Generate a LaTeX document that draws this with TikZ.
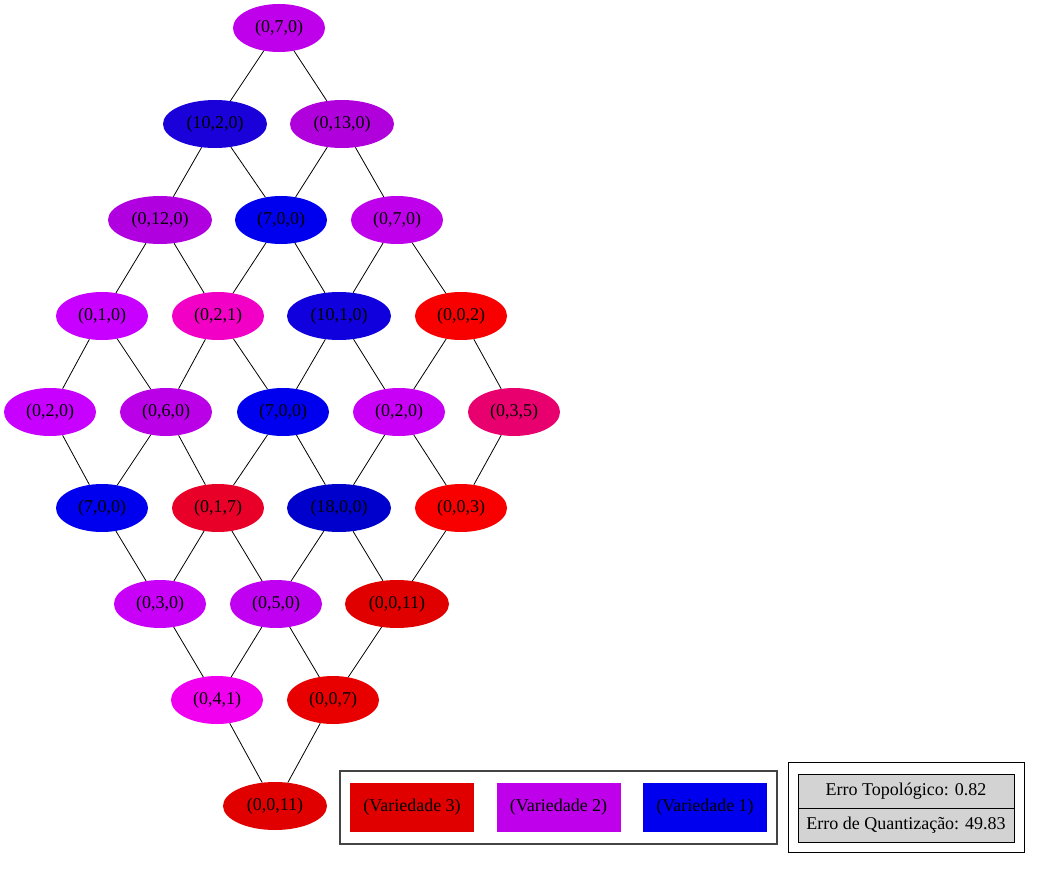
\documentclass[tikz,border=0pt]{standalone}
\usepackage{fontspec}
\setmainfont{Liberation Serif}
\usetikzlibrary{shapes.geometric}
\definecolor{cA}{HTML}{BF00EA}
\definecolor{cB}{HTML}{1A00D9}
\definecolor{cC}{HTML}{B000DC}
\definecolor{cD}{HTML}{B000E0}
\definecolor{cE}{HTML}{0000EE}
\definecolor{cF}{HTML}{BE00EB}
\definecolor{cG}{HTML}{C800FF}
\definecolor{cH}{HTML}{F200C6}
\definecolor{cI}{HTML}{1000DD}
\definecolor{cJ}{HTML}{F80000}
\definecolor{cK}{HTML}{BA00E6}
\definecolor{cL}{HTML}{C800F5}
\definecolor{cM}{HTML}{E8006E}
\definecolor{cN}{HTML}{E80028}
\definecolor{cO}{HTML}{0000CC}
\definecolor{cP}{HTML}{C800F8}
\definecolor{cQ}{HTML}{C000F0}
\definecolor{cR}{HTML}{E00000}
\definecolor{cS}{HTML}{F000EE}
\definecolor{cT}{HTML}{E80000}
\definecolor{legR}{HTML}{E00000}
\definecolor{legV}{HTML}{BF00EA}
\definecolor{legB}{HTML}{0000EE}
\definecolor{frame}{HTML}{444444}
\definecolor{cellgray}{HTML}{D3D3D3}
\tikzset{
  nd/.style={ellipse, inner sep=0pt, minimum width=92pt, minimum height=48pt, font=\fontsize{18}{20}\selectfont, text=black},
  wide/.style={minimum width=104pt},
  ed/.style={draw=black, line width=0.8pt},
  legbox/.style={rectangle, inner sep=0pt, minimum width=124pt, minimum height=49pt, font=\fontsize{18}{20}\selectfont},
  cell/.style={rectangle, draw=black, line width=0.8pt, fill=cellgray, inner sep=0pt, minimum width=216pt, minimum height=34pt, font=\fontsize{18}{20}\selectfont}
}
\begin{document}
\begin{tikzpicture}[x=1pt,y=-1pt]
\useasboundingbox (0,0) rectangle (1041,869);
% row 0
\node[nd, fill=cA] (n00) at (279,28) {(0,7,0)};
% row 1
\node[nd, wide, fill=cB] (n10) at (215,124) {(10,2,0)};
\node[nd, wide, fill=cC] (n11) at (342,124) {(0,13,0)};
% row 2
\node[nd, wide, fill=cD] (n20) at (160,220) {(0,12,0)};
\node[nd, fill=cE] (n21) at (281,220) {(7,0,0)};
\node[nd, fill=cF] (n22) at (397,220) {(0,7,0)};
% row 3
\node[nd, fill=cG] (n30) at (102,316) {(0,1,0)};
\node[nd, fill=cH] (n31) at (218,316) {(0,2,1)};
\node[nd, wide, fill=cI] (n32) at (339,316) {(10,1,0)};
\node[nd, fill=cJ] (n33) at (461,316) {(0,0,2)};
% row 4
\node[nd, fill=cG] (n40) at (50,412) {(0,2,0)};
\node[nd, fill=cK] (n41) at (166,412) {(0,6,0)};
\node[nd, fill=cE] (n42) at (283,412) {(7,0,0)};
\node[nd, fill=cL] (n43) at (399,412) {(0,2,0)};
\node[nd, fill=cM] (n44) at (514,412) {(0,3,5)};
% row 5
\node[nd, fill=cE] (n50) at (102,508) {(7,0,0)};
\node[nd, fill=cN] (n51) at (218,508) {(0,1,7)};
\node[nd, wide, fill=cO] (n52) at (339,508) {(18,0,0)};
\node[nd, fill=cJ] (n53) at (461,508) {(0,0,3)};
% row 6
\node[nd, fill=cP] (n60) at (160,604) {(0,3,0)};
\node[nd, fill=cQ] (n61) at (276,604) {(0,5,0)};
\node[nd, wide, fill=cR] (n62) at (397,604) {(0,0,11)};
% row 7
\node[nd, fill=cS] (n70) at (217,700) {(0,4,1)};
\node[nd, fill=cT] (n71) at (333,700) {(0,0,7)};
% row 8
\node[nd, wide, fill=cR] (n80) at (275,806) {(0,0,11)};
% edges
\draw[ed] (n00) -- (n10); \draw[ed] (n00) -- (n11);
\draw[ed] (n10) -- (n20); \draw[ed] (n10) -- (n21);
\draw[ed] (n11) -- (n21); \draw[ed] (n11) -- (n22);
\draw[ed] (n20) -- (n30); \draw[ed] (n20) -- (n31);
\draw[ed] (n21) -- (n31); \draw[ed] (n21) -- (n32);
\draw[ed] (n22) -- (n32); \draw[ed] (n22) -- (n33);
\draw[ed] (n30) -- (n40); \draw[ed] (n30) -- (n41);
\draw[ed] (n31) -- (n41); \draw[ed] (n31) -- (n42);
\draw[ed] (n32) -- (n42); \draw[ed] (n32) -- (n43);
\draw[ed] (n33) -- (n43); \draw[ed] (n33) -- (n44);
\draw[ed] (n40) -- (n50);
\draw[ed] (n41) -- (n50); \draw[ed] (n41) -- (n51);
\draw[ed] (n42) -- (n51); \draw[ed] (n42) -- (n52);
\draw[ed] (n43) -- (n52); \draw[ed] (n43) -- (n53);
\draw[ed] (n44) -- (n53);
\draw[ed] (n50) -- (n60);
\draw[ed] (n51) -- (n60); \draw[ed] (n51) -- (n61);
\draw[ed] (n52) -- (n61); \draw[ed] (n52) -- (n62);
\draw[ed] (n53) -- (n62);
\draw[ed] (n60) -- (n70);
\draw[ed] (n61) -- (n70); \draw[ed] (n61) -- (n71);
\draw[ed] (n62) -- (n71);
\draw[ed] (n70) -- (n80); \draw[ed] (n71) -- (n80);
% legend
\node[rectangle, draw=frame, line width=1.3pt, minimum width=437pt, minimum height=73pt, inner sep=0pt] (legend) at (558.5,807.5) {};
\node[legbox, fill=legR] (v3) at (412,807.5) {(Variedade 3)};
\node[legbox, fill=legV] (v2) at (558.5,807.5) {(Variedade 2)};
\node[legbox, fill=legB] (v1) at (705,807.5) {(Variedade 1)};
% error box
\node[rectangle, draw=black, line width=1pt, minimum width=236pt, minimum height=90pt, inner sep=0pt] (errbox) at (906,807) {};
\node[cell] (topo) at (906,791.5) {Erro Topológico: 0.82};
\node[cell] (quant) at (906,825) {Erro de Quantização: 49.83};
\end{tikzpicture}
\end{document}
